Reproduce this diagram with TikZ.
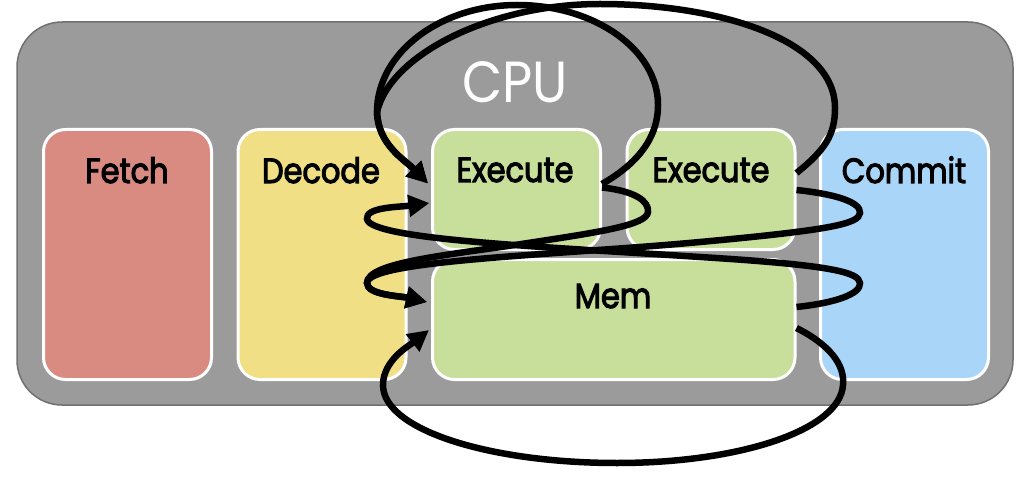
\documentclass[tikz,border=0pt]{standalone}
\usepackage{fontspec}
\newfontfamily\lblfont[FakeStretch=0.87,FakeBold=3]{Poppins}
\newfontfamily\cpufont[FakeStretch=0.9]{Poppins}
\usetikzlibrary{arrows.meta}
\definecolor{cpugray}{HTML}{9B9B9B}
\definecolor{cpuborder}{HTML}{707070}
\definecolor{fetchc}{HTML}{D98B82}
\definecolor{decodec}{HTML}{F0DF85}
\definecolor{execc}{HTML}{C8DE9B}
\definecolor{commitc}{HTML}{A9D6F8}
\begin{document}
\begin{tikzpicture}[x=1pt,y=-1pt,
  stagebox/.style={shape=rectangle, draw=white, line width=3pt, rounded corners=22pt, minimum width=168pt, inner sep=0pt},
  lbl/.style={font=\lblfont\fontsize{35}{40}\selectfont, anchor=base, inner sep=0pt},
  flow/.style={line width=6.5pt, -{Triangle[length=21pt,width=21pt]}}]
\useasboundingbox (0,0) rectangle (1032,478);
\node[shape=rectangle, draw=cpuborder, fill=cpugray, line width=1.5pt, rounded corners=45pt, minimum width=996pt, minimum height=383pt, inner sep=0pt] (cpu) at (515,213.5) {};
\node[font=\cpufont\fontsize{58}{62}\selectfont, text=white, anchor=base, inner sep=0pt] (cputxt) at (515,103) {CPU};
\node[stagebox, fill=fetchc, minimum height=250pt] (fetch) at (127.5,254.5) {};
\node[stagebox, fill=decodec, minimum height=250pt] (decode) at (322,254.5) {};
\node[stagebox, fill=execc, minimum height=120pt] (ex1) at (516.5,189.5) {};
\node[stagebox, fill=execc, minimum height=120pt] (ex2) at (711,189.5) {};
\node[stagebox, fill=execc, minimum height=120pt, minimum width=362.5pt] (mem) at (613.75,319.5) {};
\node[stagebox, fill=commitc, minimum height=250pt] (commit) at (904.5,254.5) {};
\node[lbl] (tfetch) at (127,183) {Fetch};
\node[lbl] (tdecode) at (321,183) {Decode};
\node[lbl] (tex1) at (515,182) {Execute};
\node[lbl] (tex2) at (711,182) {Execute};
\node[lbl] (tcommit) at (904,183) {Commit};
\node[lbl] (tmem) at (613,308) {Mem};
% Execute1 -> Execute1 (big loop)
\draw[flow] ([yshift=5.5pt]ex1.east) .. controls (635,165) and (658,140) .. (658,105)
  .. controls (658,50) and (595,5) .. (517,5)
  .. controls (440,5) and (377,53) .. (377,112)
  .. controls (378,145) and (405,160) .. ([xshift=-3pt,yshift=6pt]ex1.west);
% Execute2 -> Execute1 (big loop)
\draw[flow] ([yshift=16.5pt]ex2.east) .. controls (825,150) and (835,135) .. (835,108)
  .. controls (835,40) and (720,4) .. (600,4)
  .. controls (490,4) and (390,55) .. (377,112)
  .. controls (378,145) and (405,160) .. ([xshift=-3pt,yshift=6pt]ex1.west);
% Mem -> Execute1
\draw[flow] ([yshift=12.5pt]mem.east) .. controls (835,303) and (861,294) .. (860,283)
  .. controls (859,272) and (830,265) .. (700,257)
  .. controls (550,247) and (370,240) .. (367,219)
  .. controls (365,207) and (400,207) .. ([xshift=-1.5pt,yshift=-13.5pt]ex1.west);
% Execute1 -> Mem
\draw[flow] ([yshift=2pt]ex1.east) .. controls (635,191) and (649,201) .. (648,212)
  .. controls (647,225) and (600,232) .. (528,243)
  .. controls (450,255) and (367,262) .. (367,283)
  .. controls (367,295) and (400,296) .. ([xshift=-4pt,yshift=17.5pt]mem.west);
% Execute2 -> Mem
\draw[flow] ([yshift=-0.5pt]ex2.east) .. controls (835,194) and (861,202) .. (860,213)
  .. controls (859,224) and (830,230) .. (700,242)
  .. controls (560,255) and (367,260) .. (367,283)
  .. controls (367,295) and (400,296) .. ([xshift=-4pt,yshift=17.5pt]mem.west);
% Mem -> Mem (bottom loop)
\draw[flow] ([yshift=-8.5pt]mem.east) .. controls (830,345) and (845,365) .. (843,385)
  .. controls (840,430) and (740,463) .. (617,463)
  .. controls (490,463) and (383,430) .. (383,385)
  .. controls (383,360) and (410,345) .. ([xshift=-2pt,yshift=-10.5pt]mem.west);
\end{tikzpicture}
\end{document}
